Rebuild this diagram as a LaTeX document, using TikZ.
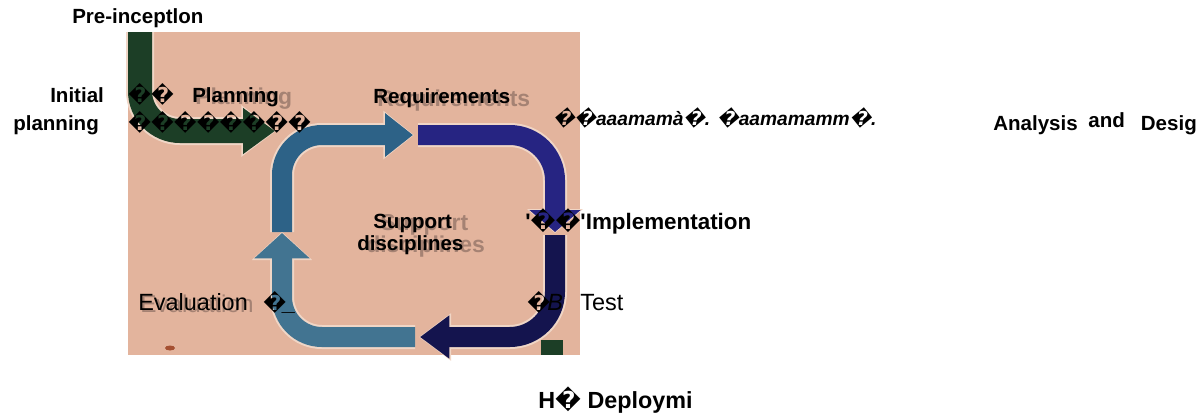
\documentclass[tikz,border=0pt]{standalone}
\usepackage{fontspec}
\setmainfont{Liberation Sans}
\newfontfamily\repfont{DejaVu Sans}
\usetikzlibrary{arrows.meta}
\definecolor{photo}{RGB}{227,180,157}
\definecolor{rim}{RGB}{240,214,198}
\definecolor{pinegreen}{RGB}{28,62,38}
\definecolor{steelband}{RGB}{45,98,135}
\definecolor{indigoband}{RGB}{38,36,130}
\definecolor{navyband}{RGB}{20,20,78}
\definecolor{tealband}{RGB}{66,116,145}
\definecolor{smudge}{RGB}{165,80,50}
\definecolor{ghostink}{RGB}{80,62,58}
\newcommand\qm{{\repfont\symbol{"FFFD}}}
\tikzstyle{lbl} = [inner sep=0pt, anchor=base west, font=\bfseries\fontsize{15.4}{18}\selectfont]
\tikzstyle{thin lbl} = [inner sep=0pt, anchor=base west, font=\fontsize{17.6}{20}\selectfont]
\tikzstyle{ghost} = [inner sep=0pt, anchor=base west, text=ghostink, opacity=0.42, font=\bfseries\fontsize{17.2}{20}\selectfont]
\tikzstyle{halo} = [draw=rim]

\begin{document}
\begin{tikzpicture}[x=0.75pt,y=0.75pt,yscale=-1,xscale=1]
\useasboundingbox (0,0) rectangle (1204,415);

%Photo background
\fill[photo] (128,32) rectangle (580,355);
\fill[smudge] (170,348) ellipse (5 and 2.5);
\fill[pinegreen] (541,340) rectangle (563,355);

%Green arrow coming in
\draw[halo, line width=21pt, rounded corners=30pt, -{Triangle[length=26pt,width=37pt]}] (140,32) -- (140,131) -- (276,131);
\draw[pinegreen, line width=18pt, rounded corners=30pt, -{Triangle[length=24pt,width=33pt]}] (140,32) -- (140,131) -- (275,131);
%Loop, top left
\draw[halo, line width=18pt, rounded corners=30pt, -{Triangle[length=23pt,width=35pt]}] (282,232) -- (282,135) -- (414,135);
\draw[steelband, line width=15pt, rounded corners=30pt, -{Triangle[length=21pt,width=31.5pt]}] (282,232) -- (282,135) -- (413,135);
%Loop, top right
\draw[halo, line width=18pt, rounded corners=34pt, -{Triangle[length=18pt,width=41pt]}] (418,135) -- (555,135) -- (555,233);
\draw[indigoband, line width=15pt, rounded corners=34pt, -{Triangle[length=16.5pt,width=37.5pt]}] (418,135) -- (555,135) -- (555,232);
%Loop, bottom right
\draw[halo, line width=18pt, rounded corners=34pt, -{Triangle[length=24pt,width=34pt]}] (555,235) -- (555,337) -- (419,337);
\draw[navyband, line width=15pt, rounded corners=34pt, -{Triangle[length=22pt,width=31pt]}] (555,235) -- (555,337) -- (420,337);
%Loop, bottom left
\draw[halo, line width=18pt, rounded corners=30pt, -{Triangle[length=21pt,width=44pt]}] (415,337) -- (282,337) -- (282,232);
\draw[tealband, line width=15pt, rounded corners=30pt, -{Triangle[length=19pt,width=40.5pt]}] (415,337) -- (282,337) -- (282,233);

%Text printed in the photo
\node[ghost] (planghost) at (195,104) {Planning};
\node[ghost] (reqghost) at (377,106) {Requirements};
\node[ghost] (supghost) at (380,230) {Support};
\node[ghost] (discghost) at (366,252) {disciplines};
\node[ghost, font=\fontsize{18.2}{21}\selectfont] (evalghost) at (140,312) {Evaluation};

% Text Node
\node[lbl] (preincep) at (72,23) {Pre-inceptlon};
% Text Node
\node[lbl] (initial) at (50,102) {Initial};
% Text Node
\node[lbl] (initplan) at (13,130) {planning};
% Text Node
\node[lbl] (qrowa) at (128,102) {\qm\qm};
% Text Node
\node[lbl] (planning) at (192,102) {Planning};
% Text Node
\node[lbl] (qrowb) at (128,130) {\qm\qm\qm\qm\qm\qm\qm\qm};
% Text Node
\node[lbl] (reqs) at (373,103) {Requirements};
% Text Node
\node[lbl, font=\bfseries\itshape\fontsize{14.4}{17}\selectfont] (garble) at (553,125) {\qm\qm aaamam\`a\qm. \qm aamamamm\qm.};
% Text Node
\node[lbl] (analysis) at (993,130) {Analysis\hspace{8pt}\raisebox{2pt}{and}\hspace{12pt}Desig};
% Text Node
\node[lbl] (support) at (373,228) {Support};
% Text Node
\node[lbl] (disc) at (357,250) {disciplines};
% Text Node
\node[lbl, font=\bfseries\fontsize{16.8}{20}\selectfont] (impl) at (525,229) {\textquotesingle\qm\qm\textquotesingle Implementation};
% Text Node
\node[thin lbl] (eval) at (138,310) {Evaluation};
% Text Node
\node[lbl] (evalq) at (263,310) {\qm};
% Text Node
\node[thin lbl, font=\itshape\fontsize{17.6}{20}\selectfont] (evalbar) at (283,310) {\_};
% Text Node
\node[lbl] (testq) at (527,310) {\qm};
% Text Node
\node[thin lbl, font=\itshape\fontsize{17.6}{20}\selectfont] (testb) at (547,310) {B};
% Text Node
\node[thin lbl] (test) at (580,310) {Test};
% Text Node
\node[lbl, font=\bfseries\fontsize{17.5}{20}\selectfont] (deploy) at (538,408) {H\qm{} Deploymi};

\end{tikzpicture}
\end{document}
